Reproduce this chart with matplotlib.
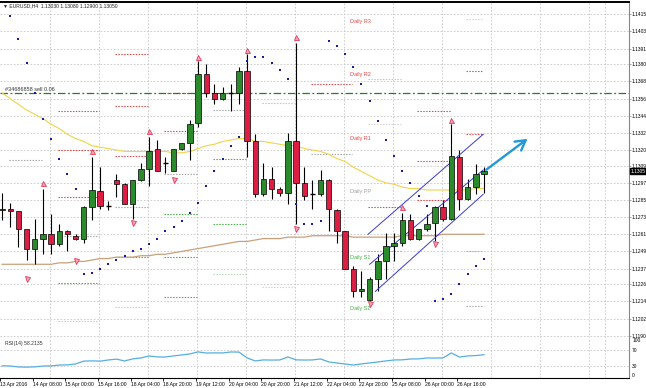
import matplotlib.pyplot as plt
from matplotlib.patches import Rectangle
import numpy as np

# EURUSD H4 candles
opens = [1.1278, 1.1279, 1.1277, 1.1265, 1.1251, 1.1258, 1.1261, 1.1254, 1.1263, 1.1260,
         1.1258, 1.1280, 1.1291, 1.1281, 1.1299, 1.1296, 1.1282, 1.1299, 1.1307, 1.1321,
         1.1311, 1.1305, 1.1321, 1.1325, 1.1339, 1.1373, 1.1360, 1.1356, 1.1360, 1.1360,
         1.1375, 1.1326, 1.1289, 1.1300, 1.1293, 1.1290, 1.1326, 1.1297, 1.1289, 1.1289,
         1.1299, 1.1278, 1.1263, 1.1237, 1.1221, 1.1215, 1.1230, 1.1242, 1.1253, 1.1255,
         1.1271, 1.1258, 1.1265, 1.1269, 1.1280, 1.1272, 1.1315, 1.1286, 1.1294, 1.1303]
highs = [1.1290, 1.1283, 1.1277, 1.1265, 1.1272, 1.1293, 1.1275, 1.1268, 1.1264, 1.1261,
         1.1281, 1.1315, 1.1308, 1.1284, 1.1303, 1.1297, 1.1299, 1.1311, 1.1329, 1.1327,
         1.1315, 1.1321, 1.1325, 1.1341, 1.1382, 1.1380, 1.1366, 1.1364, 1.1366, 1.1378,
         1.1387, 1.1331, 1.1311, 1.1308, 1.1294, 1.1332, 1.1395, 1.1308, 1.1299, 1.1306,
         1.1300, 1.1279, 1.1263, 1.1239, 1.1235, 1.1231, 1.1247, 1.1262, 1.1262, 1.1276,
         1.1275, 1.1265, 1.1275, 1.1281, 1.1285, 1.1338, 1.1320, 1.1300, 1.1310, 1.1308]
lows = [1.1271, 1.1266, 1.1252, 1.1243, 1.1240, 1.1247, 1.1247, 1.1253, 1.1249, 1.1257,
        1.1255, 1.1271, 1.1279, 1.1278, 1.1287, 1.1282, 1.1272, 1.1298, 1.1295, 1.1305,
        1.1304, 1.1305, 1.1320, 1.1313, 1.1336, 1.1357, 1.1352, 1.1355, 1.1347, 1.1352,
        1.1315, 1.1287, 1.1288, 1.1286, 1.1288, 1.1282, 1.1268, 1.1285, 1.1279, 1.1288,
        1.1263, 1.1255, 1.1237, 1.1217, 1.1217, 1.1214, 1.1221, 1.1230, 1.1242, 1.1253,
        1.1257, 1.1257, 1.1263, 1.1256, 1.1270, 1.1271, 1.1278, 1.1285, 1.1289, 1.1290]
closes = [1.1279, 1.1277, 1.1265, 1.1251, 1.1258, 1.1261, 1.1254, 1.1263, 1.1261, 1.1258,
          1.1280, 1.1292, 1.1281, 1.1281, 1.1296, 1.1282, 1.1299, 1.1307, 1.1319, 1.1305,
          1.1311, 1.1321, 1.1325, 1.1338, 1.1373, 1.1360, 1.1356, 1.1360, 1.1360, 1.1375,
          1.1326, 1.1289, 1.1300, 1.1293, 1.1290, 1.1326, 1.1297, 1.1288, 1.1289, 1.1299,
          1.1279, 1.1263, 1.1237, 1.1221, 1.1223, 1.1230, 1.1242, 1.1253, 1.1255, 1.1271,
          1.1258, 1.1265, 1.1268, 1.1280, 1.1272, 1.1316, 1.1286, 1.1294, 1.1303, 1.1305]

# parabolic SAR
sar = [np.nan, 1.1414, 1.1398, 1.1381, 1.1360, 1.1342, 1.1328, 1.1314, 1.1303, 1.1293,
       1.1233, 1.1234, 1.1237, 1.1240, 1.1243, 1.1246, 1.1249, 1.1251, 1.1254, 1.1258,
       1.1263, 1.1266, 1.1270, 1.1276, 1.1283, 1.1295, 1.1305, 1.1314, 1.1323, 1.1329,
       1.1382, 1.1385, 1.1385, 1.1381, 1.1376, 1.1370, 1.1282, 1.1268, 1.1268, 1.1270,
       1.1396, 1.1393, 1.1387, 1.1378, 1.1366, 1.1354, 1.1340, 1.1327, 1.1316, 1.1305,
       1.1297, 1.1288, 1.1281, 1.1214, 1.1216, 1.1219, 1.1226, 1.1233, 1.1239, 1.1244]

# moving averages
ma_fast = [1.1360, 1.1356, 1.1352, 1.1348, 1.1345, 1.1342, 1.1338, 1.1335, 1.1331, 1.1328,
           1.1326, 1.1323, 1.1322, 1.1321, 1.1320, 1.1319, 1.1319, 1.1319, 1.1319, 1.1319,
           1.1319, 1.1318, 1.1318, 1.1319, 1.1321, 1.1323, 1.1324, 1.1326, 1.1327, 1.1328,
           1.1328, 1.1326, 1.1326, 1.1325, 1.1324, 1.1323, 1.1323, 1.1321, 1.1320, 1.1319,
           1.1317, 1.1314, 1.1312, 1.1308, 1.1305, 1.1302, 1.1299, 1.1297, 1.1296, 1.1294,
           1.1293, 1.1293, 1.1292, 1.1292, 1.1292, 1.1292, 1.1292, 1.1292, 1.1293, 1.1293]
ma_slow = [1.1240, 1.1240, 1.1240, 1.1240, 1.1240, 1.1240, 1.1240, 1.1241, 1.1241, 1.1242,
           1.1242, 1.1243, 1.1244, 1.1244, 1.1245, 1.1245, 1.1245, 1.1246, 1.1246, 1.1247,
           1.1247, 1.1248, 1.1249, 1.1250, 1.1251, 1.1252, 1.1253, 1.1254, 1.1255, 1.1256,
           1.1256, 1.1257, 1.1258, 1.1258, 1.1258, 1.1259, 1.1259, 1.1259, 1.1260, 1.1260,
           1.1260, 1.1260, 1.1260, 1.1259, 1.1259, 1.1259, 1.1259, 1.1259, 1.1259, 1.1260,
           1.1260, 1.1260, 1.1260, 1.1260, 1.1261, 1.1261, 1.1261, 1.1261, 1.1261, 1.1261]

rsi = [30.4, 30.1, 27.6, 27.2, 27.8, 29.9, 30.3, 32.4, 32.8, 35.1,
       42.3, 42.8, 42.1, 45.0, 47.2, 42.6, 47.8, 50.2, 55.1, 52.7,
       52.4, 55.3, 57.6, 60.2, 65.3, 62.4, 62.8, 62.6, 65.1, 64.8,
       50.3, 42.6, 45.2, 44.8, 45.1, 52.6, 45.3, 44.9, 45.2, 47.6,
       40.2, 37.4, 35.1, 32.6, 35.2, 37.6, 40.1, 42.7, 45.1, 45.4,
       47.5, 47.8, 50.1, 49.8, 50.3, 62.6, 52.4, 55.2, 56.1, 58.2135]

up_frac_bars = [5, 11, 18, 24, 30, 36, 49, 55]
up_frac_price = [1.1297, 1.1319, 1.1333, 1.1385, 1.1390, 1.1399, 1.1280, 1.1341]
dn_frac_bars = [3, 9, 16, 21, 36, 45, 53]
dn_frac_price = [1.1230, 1.1242, 1.1269, 1.1299, 1.1265, 1.1212, 1.1254]

# daily pivot levels: (first bar, last bar, [(price, kind), ...])
pivot_days = [
    (1, 5, [(1.1313, "pp")]),
    (7, 12, [(1.1347, "r"), (1.1320, "r"), (1.1287, "r"), (1.1260, "pp"), (1.1227, "s"), (1.1200, "s2")]),
    (14, 18, [(1.1387, "r"), (1.1351, "r"), (1.1316, "r"), (1.1280, "pp"), (1.1245, "s"), (1.1210, "s2")]),
    (20, 24, [(1.1360, "r"), (1.1333, "r"), (1.1303, "pp"), (1.1275, "s"), (1.1245, "s"), (1.1217, "s")]),
    (26, 30, [(1.1348, "pp"), (1.1314, "s"), (1.1268, "s"), (1.1233, "s2")]),
    (32, 36, [(1.1353, "r2"), (1.1224, "pp2")]),
    (38, 43, [(1.1366, "r"), (1.1317, "pp")]),
    (45, 49, [(1.1370, "r2"), (1.1338, "pp2"), (1.1280, "r"), (1.1249, "pp")]),
    (51, 55, [(1.1347, "r"), (1.1312, "r"), (1.1285, "r")]),
    (57, 59, [(1.1412, "pp2"), (1.1375, "r"), (1.1331, "r"), (1.1249, "pp"), (1.1211, "pp")]),
]
pivot_names = ["Daily R3", "Daily R2", "Daily R1", "Daily PP", "Daily S1", "Daily S2"]
pivot_name_price = [1.1410, 1.1373, 1.1328, 1.1291, 1.1245, 1.1209]

order_price = 1.1360
order_label = "#34686858 sell 0.06"

channel_lines = [[(44.8, 1.1261), (58.9, 1.1331)],
                 [(45.0, 1.1240), (58.9, 1.1306)],
                 [(45.7, 1.1221), (58.9, 1.1289)]]
arrow_from = (59, 1.1305)
arrow_to = (64.6, 1.1329)

price_ticks = [1.1190, 1.1202, 1.1214, 1.1226, 1.1237, 1.1249, 1.1261, 1.1273, 1.1285, 1.1297,
               1.1309, 1.1320, 1.1332, 1.1344, 1.1356, 1.1368, 1.1380, 1.1391, 1.1403, 1.1415]
date_bars = [0, 4, 8, 12, 16, 20, 24, 28, 32, 36, 40, 44, 48, 52, 56]
date_labels = ["13 Apr 2016", "14 Apr 08:00", "15 Apr 00:00", "15 Apr 16:00", "18 Apr 04:00",
               "18 Apr 20:00", "19 Apr 12:00", "20 Apr 04:00", "20 Apr 20:00", "21 Apr 12:00",
               "22 Apr 04:00", "22 Apr 20:00", "25 Apr 08:00", "26 Apr 00:00", "26 Apr 16:00"]

plt.rcParams["font.family"] = ["Liberation Sans", "DejaVu Sans"]

GREEN = "#2b8a2b"
RED = "#dc1e44"
PIV_COL = {"r": "#e04848", "r2": "#eeb0b0", "pp": "#a8a8a8", "pp2": "#d4d4d4",
           "s": "#44b044", "s2": "#b4dcb4"}
NAME_COL = ["#e04848", "#e04848", "#e04848", "#a0a0a0", "#44b044", "#44b044"]
FS = 4.0      # chart texts
AX_FS = 3.5   # price axis labels
DATE_FS = 3.6

fig = plt.figure(figsize=(6.46, 3.88), dpi=100)
ax = fig.add_axes([0, 1 - 338 / 388, 629 / 646, 336 / 388])
rax = fig.add_axes([0, 1 - 378 / 388, 629 / 646, 40 / 388], sharex=ax)

x = np.arange(len(closes))
grid_kw = dict(color="#c6c6c6", lw=0.6, ls=(0, (2, 2)), zorder=0)

# vertical grid every 6 bars
for gx in list(np.arange(5.9, 72, 6)) + [73.8]:
    ax.axvline(gx, **grid_kw)
    rax.axvline(gx, **grid_kw)
for t in price_ticks:
    ax.axhline(t, **grid_kw)

# pivot levels
for start, end, levels in pivot_days:
    for price, kind in levels:
        ax.hlines(price, start - 0.15, end - 0.1, colors=PIV_COL[kind],
                  linestyles=(0, (1.3, 1.3)), lw=0.8, zorder=1)
for name, price, col in zip(pivot_names, pivot_name_price, NAME_COL):
    ax.text(42.6, price, name, color=col, fontsize=FS, va="center", ha="left", zorder=2)

# order line
ax.axhline(order_price, color="#2a7a2a", lw=0.9, ls=(0, (6, 2, 1.5, 2)), zorder=2)
ax.text(0.4, order_price + 0.00006, order_label, fontsize=FS, color="#333333",
        va="bottom", ha="left", zorder=2)

# moving averages
ax.plot(x, ma_fast, color="#f2d34a", lw=0.8, zorder=2)
ax.plot(x, ma_slow, color="#c9a07a", lw=0.9, zorder=2)

# candles
for i in x:
    o, h, l, c = opens[i], highs[i], lows[i], closes[i]
    ax.vlines(i, l, h, color="black", lw=0.8, zorder=3)
    if abs(c - o) < 0.00002:
        ax.hlines(o, i - 0.33, i + 0.33, color="black", lw=1.0, zorder=4)
    else:
        col = GREEN if c > o else RED
        ax.add_patch(Rectangle((i - 0.33, min(o, c)), 0.66, abs(c - o),
                               facecolor=col, edgecolor="black", lw=0.5, zorder=4))

# parabolic SAR
ax.scatter(x, sar, marker="s", s=2.6, color="#1a1aa8", lw=0, zorder=5)

# fractals
ax.plot(up_frac_bars, up_frac_price, ls="none", marker="^", ms=3.6, mfc="#f6a6b6",
        mec="#e03a58", mew=0.6, zorder=5)
ax.plot(dn_frac_bars, dn_frac_price, ls="none", marker="v", ms=3.6, mfc="#f6a6b6",
        mec="#e03a58", mew=0.6, zorder=5)

# channel
for (x0, y0), (x1, y1) in channel_lines:
    ax.plot([x0, x1], [y0, y1], color="#3a3ad0", lw=0.7, zorder=3)

ax.annotate("", xy=arrow_to, xytext=arrow_from, zorder=6,
            arrowprops=dict(arrowstyle="->,head_length=0.7,head_width=0.4",
                            color="#2299d6", lw=1.7))

# price axis
ax.set_xlim(-0.245, 76.75)
ax.set_ylim(1.11884, 1.14236)
ax.yaxis.tick_right()
ax.set_yticks(price_ticks)
ax.set_yticklabels([f"{t:.4f}" for t in price_ticks])
ax.tick_params(axis="y", labelsize=AX_FS, length=1.5, pad=0.6, width=0.5, color="#888888")
ax.tick_params(axis="x", bottom=False, labelbottom=False)
ax.spines["left"].set_visible(False)
ax.spines["top"].set_color("black")
ax.spines["top"].set_linewidth(1.4)
ax.spines["right"].set_color("#888888")
ax.spines["right"].set_linewidth(0.8)
ax.spines["bottom"].set_color("#999999")
ax.spines["bottom"].set_linewidth(0.5)

# current price box
ax.annotate(f"{closes[-1]:.4f}", xy=(1.0, closes[-1]), xycoords=("axes fraction", "data"),
            xytext=(1.003, closes[-1]), textcoords=("axes fraction", "data"),
            fontsize=AX_FS, color="white", va="center", ha="left",
            bbox=dict(boxstyle="square,pad=0.1", fc="black", ec="black"))

# header
fig.text(0.004, 1 - 6 / 388,
         f"\u25bc EURUSD,H4  {opens[-1]:.5f} {highs[-1]:.5f} {lows[-1]:.5f} {closes[-1]:.5f}",
         fontsize=FS - 0.4, color="#222222", va="center", ha="left")

# RSI window
rax.plot(x, rsi, color="#55aee2", lw=0.9)
rax.set_ylim(0, 100)
rax.set_yticks([])
for lvl in (70, 30):
    rax.axhline(lvl, **grid_kw)
ytr = rax.get_yaxis_transform()
rax.text(1.005, 99, "100", transform=ytr, fontsize=AX_FS, va="top", ha="left")
rax.text(1.005, 70, "70", transform=ytr, fontsize=AX_FS, va="center", ha="left")
rax.text(1.005, 30, "30", transform=ytr, fontsize=AX_FS, va="center", ha="left")
rax.text(1.005, 1, "0", transform=ytr, fontsize=AX_FS, va="bottom", ha="left")
rax.text(0.008, 0.85, f"RSI(14) {rsi[-1]:.4f}", transform=rax.transAxes,
         fontsize=FS - 0.3, color="#333333", va="center", ha="left")
rax.spines["left"].set_visible(False)
rax.spines["top"].set_visible(False)
rax.spines["right"].set_color("#888888")
rax.spines["right"].set_linewidth(0.8)
rax.spines["bottom"].set_color("black")
rax.spines["bottom"].set_linewidth(0.8)
rax.set_xticks(np.array(date_bars) - 0.25)
rax.set_xticklabels(date_labels, ha="left")
rax.tick_params(axis="x", labelsize=DATE_FS, length=2.5, pad=0.6, width=0.6)

fig.savefig("out.png", dpi=100)
